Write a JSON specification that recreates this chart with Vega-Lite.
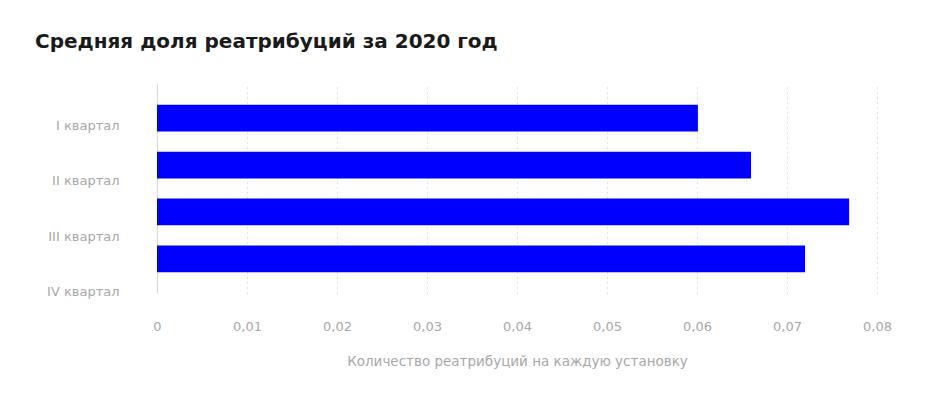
{
  "$schema": "https://vega.github.io/schema/vega-lite/v6.json",
  "width": 720,
  "height": 209,
  "autosize": {"type": "none"},
  "padding": {"left": 157, "top": 84, "right": 65, "bottom": 100},
  "title": {
    "text": "Средняя доля реатрибуций за 2020 год",
    "anchor": "start",
    "frame": "group",
    "dx": -122,
    "offset": 32,
    "font": "DejaVu Sans",
    "fontSize": 20,
    "fontWeight": "bold",
    "color": "#1a1a1a"
  },
  "data": {
    "values": [
      {"quarter": "I квартал", "value": 0.0601},
      {"quarter": "II квартал", "value": 0.066},
      {"quarter": "III квартал", "value": 0.0769},
      {"quarter": "IV квартал", "value": 0.072}
    ]
  },
  "encoding": {
    "x": {
      "field": "value",
      "type": "quantitative",
      "scale": {"domain": [0, 0.08], "nice": false},
      "axis": {
        "title": "Количество реатрибуций на каждую установку",
        "values": [0, 0.01, 0.02, 0.03, 0.04, 0.05, 0.06, 0.07, 0.08],
        "format": "~g",
        "labelExpr": "replace(datum.label, '.', ',')",
        "labelFlush": false,
        "grid": true,
        "gridDash": [1, 4],
        "gridColor": "#c8c8c8",
        "domain": false,
        "ticks": false,
        "labelPadding": 27,
        "labelFont": "DejaVu Sans",
        "labelFontSize": 13,
        "labelColor": "#a8a8a8",
        "titleFont": "DejaVu Sans",
        "titleFontSize": 13.5,
        "titleFontWeight": "normal",
        "titleColor": "#a8a8a8",
        "titlePadding": 21
      }
    }
  },
  "layer": [
    {
      "mark": {"type": "bar", "color": "#0000ff"},
      "encoding": {
        "y": {
          "field": "quarter",
          "type": "nominal",
          "sort": null,
          "scale": {"paddingInner": 0.43, "paddingOuter": 0.44},
          "axis": null
        }
      }
    },
    {
      "mark": {"type": "point", "opacity": 0},
      "encoding": {
        "y": {
          "field": "quarter",
          "type": "nominal",
          "sort": null,
          "scale": {"type": "point", "padding": 0.383, "align": 0.97},
          "axis": {
            "orient": "left",
            "title": null,
            "domain": true,
            "domainColor": "#d9d9d9",
            "ticks": false,
            "grid": false,
            "labelPadding": 38,
            "labelFont": "DejaVu Sans",
            "labelFontSize": 13,
            "labelColor": "#a8a8a8"
          }
        }
      }
    }
  ],
  "resolve": {"scale": {"y": "independent"}},
  "config": {"view": {"stroke": null}}
}
